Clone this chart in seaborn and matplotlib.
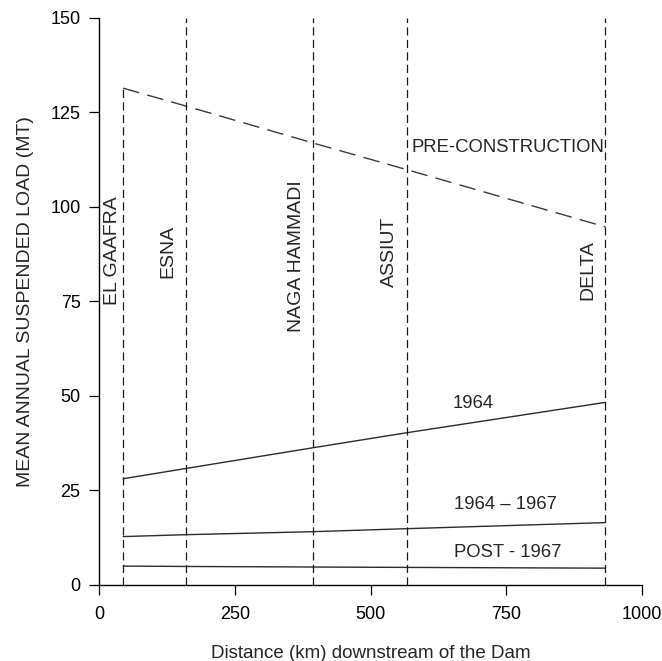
import matplotlib
matplotlib.use('Agg')
import matplotlib.pyplot as plt
import numpy as np
import pandas as pd
import seaborn as sns

# stations along the Nile (km downstream of the dam)
stations = ['EL GAAFRA', 'ESNA', 'NAGA HAMMADI', 'ASSIUT', 'DELTA']
station_km = [44, 159, 394, 568, 933]

# mean annual suspended load (MT) at each station
pre_construction = [131.4, 126.7, 116.9, 109.8, 94.7]
load_1964 = [28.1, 30.8, 36.3, 40.3, 48.3]
load_1964_1967 = [12.8, 13.3, 14.1, 14.9, 16.5]
load_post_1967 = [5.0, 4.9, 4.75, 4.65, 4.45]

series_names = ['PRE-CONSTRUCTION', '1964', '1964 \u2013 1967', 'POST - 1967']

df = pd.DataFrame({
    'km': station_km * 4,
    'load': pre_construction + load_1964 + load_1964_1967 + load_post_1967,
    'series': np.repeat(series_names, len(station_km)),
})

sns.set_style('ticks')
plt.rcParams['font.family'] = ['Liberation Sans', 'DejaVu Sans']

fig = plt.figure(figsize=(6.62, 6.61), dpi=100)
ax = fig.add_axes([0.150, 0.115, 0.8195, 0.858])

# solid post-dam lines
sns.lineplot(data=df[df['series'] != 'PRE-CONSTRUCTION'], x='km', y='load',
             units='series', estimator=None, color='#2b2b2b', lw=1.0,
             legend=False, ax=ax)
# dashed pre-construction line
pre = df[df['series'] == 'PRE-CONSTRUCTION']
sns.lineplot(data=pre, x='km', y='load', color='#3a3a3a', lw=1.0,
             ax=ax, legend=False)
ax.lines[-1].set_dashes((12, 6))

# station verticals; El Gaafra only rises to the pre-construction line
tops = [pre_construction[0]] + [150] * (len(station_km) - 1)
ax.vlines(station_km, 0, tops, colors='#1a1a1a',
          linestyles=(0, (6.5, 3.5)), lw=0.9)

# station names
name_x = [24, 127, 363.5, 535.5, 901]
name_y = [88.4, 88.2, 87, 88.0, 83.3]
for name, x, y in zip(stations, name_x, name_y):
    ax.text(x, y, name, rotation=90, ha='center', va='center', fontsize=14)

# series labels
ax.text(576, 115.8, series_names[0], ha='left', va='center', fontsize=13.3)
ax.text(689, 47.9, series_names[1], ha='center', va='center', fontsize=13.3)
ax.text(749, 21.2, series_names[2], ha='center', va='center', fontsize=13.3)
ax.text(752, 8.5, series_names[3], ha='center', va='center', fontsize=13.3)

ax.set_xlim(0, 1000)
ax.set_ylim(0, 150)
ax.set_xticks([0, 250, 500, 750, 1000])
ax.set_yticks([0, 25, 50, 75, 100, 125, 150])
ax.tick_params(direction='out', length=7, width=0.9, labelsize=13, colors='black')
ax.tick_params(axis='x', pad=8)
ax.tick_params(axis='y', pad=6.5)
ax.set_xlabel('Distance (km) downstream of the Dam', fontsize=13.5, labelpad=16)
ax.set_ylabel('MEAN ANNUAL SUSPENDED LOAD (MT)', fontsize=14, labelpad=12)
sns.despine(ax=ax)
for s in ['left', 'bottom']:
    ax.spines[s].set_linewidth(1.0)
    ax.spines[s].set_color('black')

fig.savefig('out.png', dpi=100)
